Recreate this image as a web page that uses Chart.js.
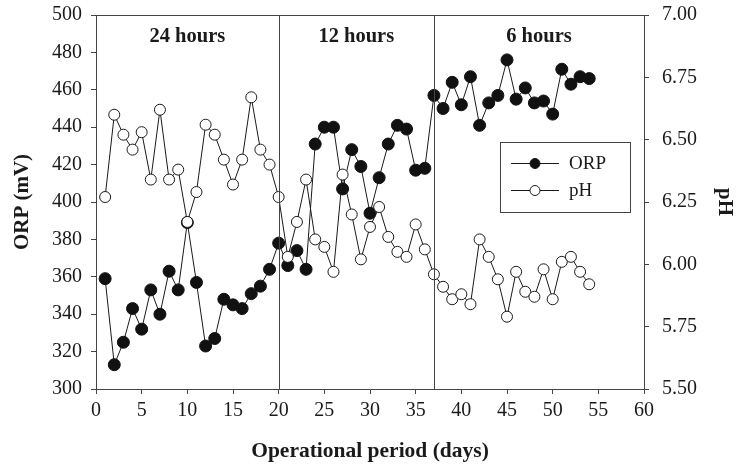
<!DOCTYPE html>
<html>
<head>
<meta charset="utf-8">
<style>
  html, body { margin: 0; padding: 0; background: #fff; }
  #wrap { width: 737px; height: 468px; }
</style>
<script src="https://cdn.jsdelivr.net/npm/chart.js@4.4.1/dist/chart.umd.min.js"></script>
</head>
<body>
<div id="wrap"><canvas id="chart"></canvas></div>
<script>
// operational days
const days = [];
for (let d = 1; d <= 54; d++) days.push(d);

const orp = [359, 313, 325, 343, 332, 353, 340, 363, 353, 389,
             357, 323, 327, 348, 345, 343, 351, 355, 364, 378,
             366, 374, 364, 431, 440, 440, 407, 428, 419, 394,
             413, 431, 441, 439, 417, 418, 457, 450, 464, 452,
             467, 441, 453, 457, 476, 455, 461, 453, 454, 447,
             471, 463, 467, 466];

const ph = [6.27, 6.60, 6.52, 6.46, 6.53, 6.34, 6.62, 6.34, 6.38, 6.17,
            6.29, 6.56, 6.52, 6.42, 6.32, 6.42, 6.67, 6.46, 6.40, 6.27,
            6.03, 6.17, 6.34, 6.10, 6.07, 5.97, 6.36, 6.20, 6.02, 6.15,
            6.23, 6.11, 6.05, 6.03, 6.16, 6.06, 5.96, 5.91, 5.86, 5.88,
            5.84, 6.10, 6.03, 5.94, 5.79, 5.97, 5.89, 5.87, 5.98, 5.86,
            6.01, 6.03, 5.97, 5.92];

// cycle changes and their labels
const phaseBreaks = [20, 37];
const phaseLabels = ['24 hours', '12 hours', '6 hours'];
const phaseEdges = [0, 20, 37, 60];

const serif = '"Liberation Serif", "Times New Roman", serif';
const ink = '#1a1a1a';

const toPoints = (ys) => days.map((d, i) => ({ x: d, y: ys[i] }));

// frame, phase lines, phase labels and legend
const decorations = {
  id: 'decorations',
  afterDraw(chart) {
    const { ctx, chartArea: a, scales } = chart;
    const x = scales.x;
    ctx.save();
    ctx.strokeStyle = '#444';
    ctx.lineWidth = 1;
    ctx.beginPath();
    ctx.moveTo(a.left, a.top + 0.5);
    ctx.lineTo(a.right, a.top + 0.5);
    phaseBreaks.forEach(b => {
      const px = Math.round(x.getPixelForValue(b)) + 0.5;
      ctx.moveTo(px, a.top);
      ctx.lineTo(px, a.bottom);
    });
    ctx.stroke();

    ctx.fillStyle = ink;
    ctx.font = 'bold 20.5px ' + serif;
    ctx.textAlign = 'center';
    ctx.textBaseline = 'middle';
    phaseLabels.forEach((t, i) => {
      const mid = (phaseEdges[i] + phaseEdges[i + 1]) / 2;
      ctx.fillText(t, x.getPixelForValue(mid), a.top + 22);
    });

    // legend box
    ctx.strokeStyle = '#444';
    ctx.strokeRect(500.5, 142.5, 130, 70);
    const rows = [
      { label: 'ORP', fill: '#111', y: 163 },
      { label: 'pH', fill: '#fff', y: 190 }
    ];
    ctx.font = '19px ' + serif;
    ctx.textAlign = 'left';
    rows.forEach(r => {
      ctx.strokeStyle = ink;
      ctx.beginPath();
      ctx.moveTo(511, r.y + 0.5);
      ctx.lineTo(559, r.y + 0.5);
      ctx.stroke();
      ctx.beginPath();
      ctx.arc(535, r.y + 0.5, 5, 0, Math.PI * 2);
      ctx.fillStyle = r.fill;
      ctx.fill();
      ctx.stroke();
      ctx.fillStyle = ink;
      ctx.fillText(r.label, 569, r.y + 1);
    });
    ctx.restore();
  }
};

const axisCommon = {
  border: { display: true, color: '#444', width: 1 },
  grid: { display: true, drawOnChartArea: false, tickLength: 5, color: '#444' },
  ticks: { color: ink, font: { family: serif, size: 20 } }
};

// fixed axis sizes so the plot area sits where it does in the figure
const fixWidth = (w) => (s) => { s.width = w; s.paddingTop = 0; s.paddingBottom = 0; };

new Chart(document.getElementById('chart'), {
  type: 'line',
  data: {
    datasets: [
      {
        label: 'ORP',
        data: toPoints(orp),
        yAxisID: 'y',
        borderColor: ink,
        borderWidth: 1,
        pointRadius: 6,
        pointBackgroundColor: '#111',
        pointBorderColor: '#111',
        pointBorderWidth: 1,
        tension: 0,
        order: 1
      },
      {
        label: 'pH',
        data: toPoints(ph),
        yAxisID: 'y1',
        borderColor: ink,
        borderWidth: 1,
        pointRadius: 5.5,
        pointBackgroundColor: '#fff',
        pointBorderColor: ink,
        pointBorderWidth: 1,
        tension: 0,
        order: 0
      }
    ]
  },
  options: {
    responsive: true,
    maintainAspectRatio: false,
    animation: false,
    layout: { padding: { top: 15, right: 0, left: 0, bottom: 0 } },
    plugins: { legend: { display: false }, tooltip: { enabled: false } },
    scales: {
      x: {
        type: 'linear',
        min: 0, max: 60,
        ...axisCommon,
        ticks: { ...axisCommon.ticks, stepSize: 5, padding: 5, maxRotation: 0 },
        title: {
          display: true, text: 'Operational period (days)', color: ink,
          font: { family: serif, size: 21.5, weight: 'bold' }, padding: { top: 14 }
        },
        afterFit(s) { s.height = 79; s.paddingLeft = 0; s.paddingRight = 0; }
      },
      y: {
        position: 'left',
        min: 300, max: 500,
        ...axisCommon,
        ticks: { ...axisCommon.ticks, stepSize: 20, padding: 9 },
        title: {
          display: true, text: 'ORP (mV)', color: ink,
          font: { family: serif, size: 21, weight: 'bold' }, padding: { bottom: 0, top: 10 }
        },
        afterFit: fixWidth(96)
      },
      y1: {
        position: 'right',
        min: 5.5, max: 7.0,
        ...axisCommon,
        ticks: { ...axisCommon.ticks, stepSize: 0.25, padding: 13,
          callback: v => v.toFixed(2) },
        title: {
          display: true, text: 'pH', color: ink,
          font: { family: serif, size: 21, weight: 'bold' }, padding: { top: 0, bottom: 2 }
        },
        afterFit: fixWidth(93)
      }
    }
  },
  plugins: [decorations]
});
</script>
</body>
</html>
